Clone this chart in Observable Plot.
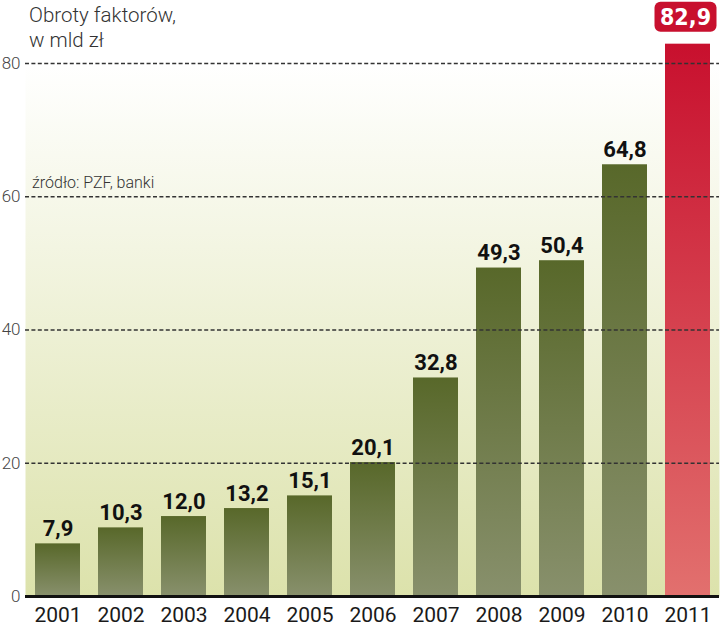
<!DOCTYPE html>
<html>
<head>
<meta charset="utf-8">
<script src="https://cdn.jsdelivr.net/npm/d3@7"></script>
<script src="https://cdn.jsdelivr.net/npm/@observablehq/plot@0.6"></script>
<style>
  html, body { margin: 0; padding: 0; background: #fff; }
  svg text { font-family: Roboto, "Open Sans", sans-serif; }
</style>
</head>
<body>
<div id="chart"></div>
<script>
const years = ["2001","2002","2003","2004","2005","2006","2007","2008","2009","2010","2011"];
const values = [7.9, 10.3, 12.0, 13.2, 15.1, 20.1, 32.8, 49.3, 50.4, 64.8, 82.9];
const yTicks = [0, 20, 40, 60, 80];
const gridTicks = [20, 40, 60, 80];
const highlightYear = "2011";
const titleLines = ["Obroty faktorów,", "w mld zł"];
const sourceText = "źródło: PZF, banki";

const data = years.map((year, i) => ({year, value: values[i]}));
const fmt = v => v.toFixed(1).replace(".", ",");
const regular = data.filter(d => d.year !== highlightYear);
const highlight = data.filter(d => d.year === highlightYear);
const boldFont = '"DejaVu Sans Condensed", "DejaVu Sans", sans-serif';

const defs = () => {
  const g = d3.create("svg:defs");
  const bg = g.append("linearGradient").attr("id", "bgGrad").attr("x1", 0).attr("y1", 0).attr("x2", 0).attr("y2", 1);
  bg.append("stop").attr("offset", "0%").attr("stop-color", "#ffffff");
  bg.append("stop").attr("offset", "100%").attr("stop-color", "#dce2ab");
  const gr = g.append("linearGradient").attr("id", "greenGrad").attr("x1", 0).attr("y1", 0).attr("x2", 0).attr("y2", 1);
  gr.append("stop").attr("offset", "0%").attr("stop-color", "#58682a");
  gr.append("stop").attr("offset", "100%").attr("stop-color", "#88906c");
  const rd = g.append("linearGradient").attr("id", "redGrad").attr("x1", 0).attr("y1", 0).attr("x2", 0).attr("y2", 1);
  rd.append("stop").attr("offset", "0%").attr("stop-color", "#c8102e");
  rd.append("stop").attr("offset", "100%").attr("stop-color", "#e2706e");
  return g.node();
};

const plot = Plot.plot({
  width: 720,
  height: 627,
  marginLeft: 25,
  marginRight: 1,
  marginTop: 63,
  marginBottom: 31,
  style: {background: "transparent", overflow: "visible"},
  x: {domain: years, paddingInner: 0.287, paddingOuter: 0.143},
  y: {domain: [0, 80]},
  marks: [
    defs,
    Plot.frame({fill: "url(#bgGrad)", stroke: null}),
    Plot.barY(regular, {x: "year", y: "value", fill: "url(#greenGrad)"}),
    Plot.barY(highlight, {x: "year", y: "value", fill: "url(#redGrad)"}),
    Plot.ruleY(gridTicks, {stroke: "#333", strokeWidth: 1.6, strokeDasharray: "4,2.4"}),
    Plot.ruleY([0], {stroke: "#111", strokeWidth: 3}),
    Plot.axisY({ticks: yTicks, tickSize: 0, tickPadding: 5, fontSize: 17, fill: "#444", fontWeight: 300, tickFormat: d => String(d), label: null}),
    Plot.axisX({tickSize: 0, tickPadding: 11, fontSize: 21, fill: "#1a1a1a", label: null}),
    Plot.text(regular, {x: "year", y: "value", text: d => fmt(d.value), dy: -8, lineAnchor: "bottom",
      fontSize: 22, fontWeight: "bold", fill: "#111", fontFamily: boldFont})
  ]
});

const svg = d3.select(plot);
const xs = plot.scale("x");
const ys = plot.scale("y");

// highlight label box for 2011
highlight.forEach(d => {
  const cx = xs.apply(d.year) + xs.bandwidth / 2 - 2;
  const top = ys.apply(d.value);
  const g = svg.append("g");
  g.append("rect").attr("x", cx - 31).attr("y", top - 42).attr("width", 62).attr("height", 30)
    .attr("rx", 6).attr("fill", "#c8102e");
  g.append("text").attr("x", cx).attr("y", top - 19).attr("text-anchor", "middle")
    .attr("font-size", 23).attr("font-weight", "bold").attr("fill", "#fff")
    .style("font-family", boldFont)
    .text(fmt(d.value));
});

// title
const t = svg.append("text").attr("text-anchor", "start").attr("font-size", 20.5).attr("font-weight", 300).attr("fill", "#333");
titleLines.forEach((line, i) => t.append("tspan").attr("x", 29).attr("y", 22 + i * 25).text(line));

// source
svg.append("text").attr("text-anchor", "start").attr("x", 32).attr("y", 188).attr("font-size", 16).attr("font-weight", 300).attr("fill", "#333").text(sourceText);

document.getElementById("chart").appendChild(plot);
</script>
</body>
</html>
